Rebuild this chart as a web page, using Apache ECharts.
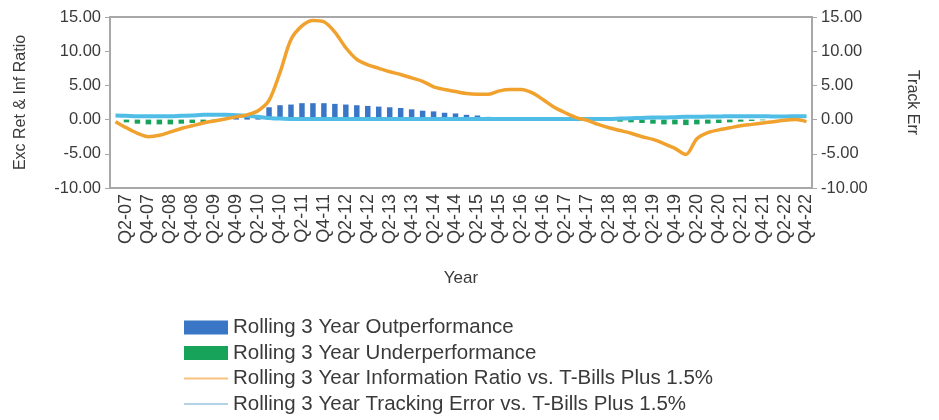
<!DOCTYPE html>
<html>
<head>
<meta charset="utf-8">
<script src="https://cdn.jsdelivr.net/npm/echarts@6/dist/echarts.min.js"></script>
<style>
html,body{margin:0;padding:0;background:#fff;}
#c{width:939px;height:420px;}
</style>
</head>
<body>
<div id="c"></div>
<script>
const categories = [
"Q1-07","Q2-07","Q3-07","Q4-07",
"Q1-08","Q2-08","Q3-08","Q4-08",
"Q1-09","Q2-09","Q3-09","Q4-09",
"Q1-10","Q2-10","Q3-10","Q4-10",
"Q1-11","Q2-11","Q3-11","Q4-11",
"Q1-12","Q2-12","Q3-12","Q4-12",
"Q1-13","Q2-13","Q3-13","Q4-13",
"Q1-14","Q2-14","Q3-14","Q4-14",
"Q1-15","Q2-15","Q3-15","Q4-15",
"Q1-16","Q2-16","Q3-16","Q4-16",
"Q1-17","Q2-17","Q3-17","Q4-17",
"Q1-18","Q2-18","Q3-18","Q4-18",
"Q1-19","Q2-19","Q3-19","Q4-19",
"Q1-20","Q2-20","Q3-20","Q4-20",
"Q1-21","Q2-21","Q3-21","Q4-21",
"Q1-22","Q2-22","Q3-22","Q4-22"
];

const outperformance = [
0,0,0,0, 0,0,0,0, 0,0,0.2,0.3,
0.4,0.6,1.8,2.1, 2.2,2.4,2.4,2.4,
2.3,2.2,2.1,2.0, 1.9,1.8,1.7,1.5,
1.3,1.2,1.0,0.9, 0.7,0.6,0.4,0.3,
0.2,0.15,0.1,0.05, 0.05,0,0,0,
0,0,0,0, 0,0,0,0, 0,0,0,0,
0,0,0,0, 0,0,0,0
];

const underperformance = [
0,-0.4,-0.6,-0.7, -0.7,-0.7,-0.6,-0.5, -0.4,-0.2,0,0,
0,0,0,0, 0,0,0,0, 0,0,0,0, 0,0,0,0, 0,0,0,0,
0,0,0,0, 0,0,0,0, 0,0,0,0,
-0.1,-0.2,-0.3,-0.4, -0.5,-0.6,-0.7,-0.7,
-0.8,-0.7,-0.6,-0.5, -0.4,-0.3,-0.2,-0.1,
0,0,0,0
];

const infoRatio = [
-0.3,-1.2,-2.0,-2.5, -2.3,-1.8,-1.3,-0.9,
-0.5,-0.2,0.1,0.4, 0.7,1.3,2.8,6.9,
11.7,13.7,14.5,14.3, 12.8,10.5,8.8,8.0,
7.5,7.0,6.6,6.1, 5.6,4.8,4.4,4.1,
3.8,3.7,3.7,4.2, 4.4,4.4,3.9,2.9,
1.8,1.0,0.3,-0.1, -0.7,-1.2,-1.6,-2.0,
-2.5,-2.9,-3.5,-4.2, -5.1,-2.8,-1.9,-1.5,
-1.2,-0.9,-0.7,-0.5, -0.3,-0.1,0.0,-0.3
];

const trackingError = [
0.6,0.55,0.5,0.5, 0.5,0.5,0.55,0.6,
0.7,0.7,0.7,0.65, 0.55,0.4,0.25,0.15,
0.1,0.1,0.1,0.1, 0.1,0.1,0.1,0.1,
0.1,0.1,0.1,0.1, 0.1,0.1,0.1,0.1,
0.1,0.1,0.1,0.1, 0.1,0.1,0.1,0.1,
0.1,0.1,0.1,0.1, 0.1,0.1,0.15,0.2,
0.25,0.3,0.3,0.35, 0.4,0.4,0.45,0.45,
0.5,0.5,0.5,0.5, 0.45,0.45,0.5,0.5
];

const seriesNames = [
"Rolling 3 Year Outperformance",
"Rolling 3 Year Underperformance",
"Rolling 3 Year Information Ratio vs. T-Bills Plus 1.5%",
"Rolling 3 Year Tracking Error vs. T-Bills Plus 1.5%"
];

const yMin = -10, yMax = 15, yStep = 5;

const FONT = "Liberation Sans";
const AXIS_COLOR = "#a8a8a8";
const TEXT_COLOR = "#3a3a3a";

const chart = echarts.init(document.getElementById('c'), null, {renderer:'canvas'});

const yAxisBase = {
  type: 'value', min: yMin, max: yMax, interval: yStep,
  nameLocation: 'middle',
  nameTextStyle: {fontFamily: FONT, fontSize: 16, color: TEXT_COLOR},
  axisLine: {show: true, lineStyle: {color: AXIS_COLOR, width: 2}},
  axisTick: {show: true, length: 5, lineStyle: {color: AXIS_COLOR, width: 1}},
  axisLabel: {fontFamily: FONT, fontSize: 16.5, color: TEXT_COLOR, margin: 9,
    formatter: v => v.toFixed(2)},
  splitLine: {show: false}
};

chart.setOption({
  animation: false,
  backgroundColor: '#fff',
  grid: {left: 110, right: 127, top: 17, bottom: 232, show: true,
    borderColor: AXIS_COLOR, borderWidth: 2},
  legend: {
    orient: 'vertical', left: 183, top: 317, padding: 0,
    itemWidth: 44, itemHeight: 14, itemGap: 4.5,
    textStyle: {fontFamily: FONT, fontSize: 20.5, color: TEXT_COLOR},
    data: [
      {name: seriesNames[0], icon: 'rect'},
      {name: seriesNames[1], icon: 'rect'},
      {name: seriesNames[2], itemStyle: {opacity: 0}, lineStyle: {width: 2, color: '#f6c27e'}},
      {name: seriesNames[3], itemStyle: {opacity: 0}, lineStyle: {width: 2, color: '#b5d3e8'}}
    ]
  },
  xAxis: {
    type: 'category', data: categories, boundaryGap: true,
    name: 'Year', nameLocation: 'middle', nameGap: 82,
    nameTextStyle: {fontFamily: FONT, fontSize: 17, color: TEXT_COLOR},
    axisLine: {show: true, onZero: false, lineStyle: {color: AXIS_COLOR, width: 2}},
    axisTick: {show: false},
    axisLabel: {rotate: 90, fontFamily: FONT, fontSize: 18, color: TEXT_COLOR, margin: 6,
      interval: (i) => i % 2 === 1}
  },
  yAxis: [
    Object.assign({}, yAxisBase, {position: 'left', name: 'Exc Ret & Inf Ratio', nameGap: 81, nameRotate: 90}),
    Object.assign({}, yAxisBase, {position: 'right', name: 'Track Err', nameGap: 92, nameRotate: -90})
  ],
  series: [
    {name: seriesNames[0], type: 'bar', stack: 'perf', data: outperformance,
      barWidth: '50%', itemStyle: {color: '#3a76c6'}, z: 2},
    {name: seriesNames[1], type: 'bar', stack: 'perf', data: underperformance,
      barWidth: '50%', itemStyle: {color: '#17a35a'}, z: 2},
    {name: seriesNames[2], type: 'line', data: infoRatio, yAxisIndex: 0,
      symbol: 'none', smooth: 0.3, lineStyle: {color: '#f0a12e', width: 3.5}, itemStyle: {color: '#f0a12e'}, z: 4},
    {name: seriesNames[3], type: 'line', data: trackingError, yAxisIndex: 1,
      symbol: 'none', smooth: 0.3, lineStyle: {color: '#4fbde6', width: 4}, itemStyle: {color: '#4fbde6'}, z: 3}
  ]
});
</script>
</body>
</html>
